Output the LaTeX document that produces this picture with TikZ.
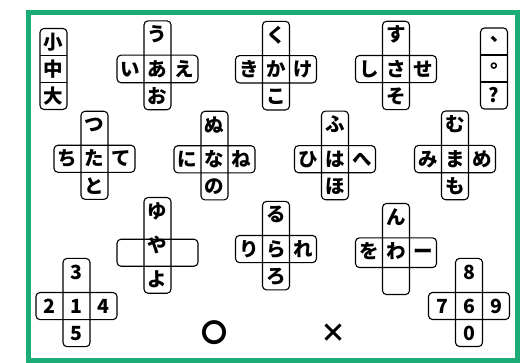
\documentclass[tikz,border=0pt]{standalone}
\usepackage{fontspec}
\setmainfont{Noto Sans CJK JP}
\newfontfamily\tcfont{Noto Sans CJK TC}
\usepackage{xcolor}
\usepackage{tikz}
\usetikzlibrary{fit, matrix}
\definecolor{framegreen}{RGB}{28,172,120}
\tikzstyle{cell}=[rectangle, draw=none, minimum size=27pt, inner sep=0pt, outer sep=0pt]
\tikzstyle{strip}=[rectangle, draw, rounded corners=4pt, inner sep=0pt, line width=1.1pt]
\tikzstyle{keypad}=[ampersand replacement=\&, matrix of nodes, nodes in empty cells,
    nodes={cell}, row sep=0pt, column sep=0pt, inner sep=0pt, outer sep=0pt]

% cross key: name, position, centre, up, left, right, down
\newcommand{\flickkey}[7]{%
  \matrix (#1) at (#2) [keypad] {
    \& #4 \& \\
    #5 \& #3 \& #6 \\
    \& #7 \& \\
  };
  \node[strip, fit=(#1-2-1) (#1-2-3)] (#1-h) {};
  \node[strip, fit=(#1-1-2) (#1-3-2)] (#1-v) {};
}
% column key: name, position, top, middle, bottom
\newcommand{\flickcol}[5]{%
  \matrix (#1) at (#2) [keypad] {
    #3 \\
    #4 \\
    #5 \\
  };
  \node[strip, fit=(#1-1-1) (#1-3-1)] (#1-v) {};
  \draw[line width=1.1pt] (#1-2-1.north west) -- (#1-2-1.north east);
  \draw[line width=1.1pt] (#1-2-1.south west) -- (#1-2-1.south east);
}

\begin{document}
\begin{tikzpicture}[x=1pt, y=-1pt]

\tikzset{every node/.style={font=\bfseries\fontsize{19.5pt}{19.5pt}\selectfont}}
\tikzset{signkey/.style={inner sep=0pt, font=\bfseries\fontsize{26pt}{26pt}\selectfont}}

\useasboundingbox (0,0) rectangle (527,362);

% outer frame
\draw[framegreen, line width=5pt] (28,12) rectangle (517.5,360);

% first row
\flickcol{size}{53.5,69}{小}{中}{大}
\flickkey{a}{157.5,69}{あ}{う}{い}{え}{お}
\flickkey{ka}{276,69}{か}{く}{き}{け}{こ}
\flickkey{sa}{396,69}{さ}{す}{し}{せ}{そ}
\flickcol{punct}{494,68.5}{{\tcfont 、}}{{\tcfont 。}}{?}

% second row
\flickkey{ta}{94.5,159}{た}{つ}{ち}{て}{と}
\flickkey{na}{214.5,159}{な}{ぬ}{に}{ね}{の}
\flickkey{ha}{335,159}{は}{ふ}{ひ}{へ}{ほ}
\flickkey{ma}{455,159}{ま}{む}{み}{め}{も}

% third row
\flickkey{ya}{157.5,249}{や}{ゆ}{}{}{よ}
\flickkey{ra}{276,249}{ら}{る}{り}{れ}{ろ}
\flickkey{wa}{396,249}{わ}{ん}{を}{ー}{}

% digits and marks
\flickkey{one}{76.5,306}{1}{3}{2}{4}{5}
\flickkey{six}{469,306}{6}{8}{7}{9}{0}
\node[signkey] (maru) at (214,333) {〇};
\node[signkey] (batsu) at (333.5,333) {×};

\end{tikzpicture}
\end{document}
